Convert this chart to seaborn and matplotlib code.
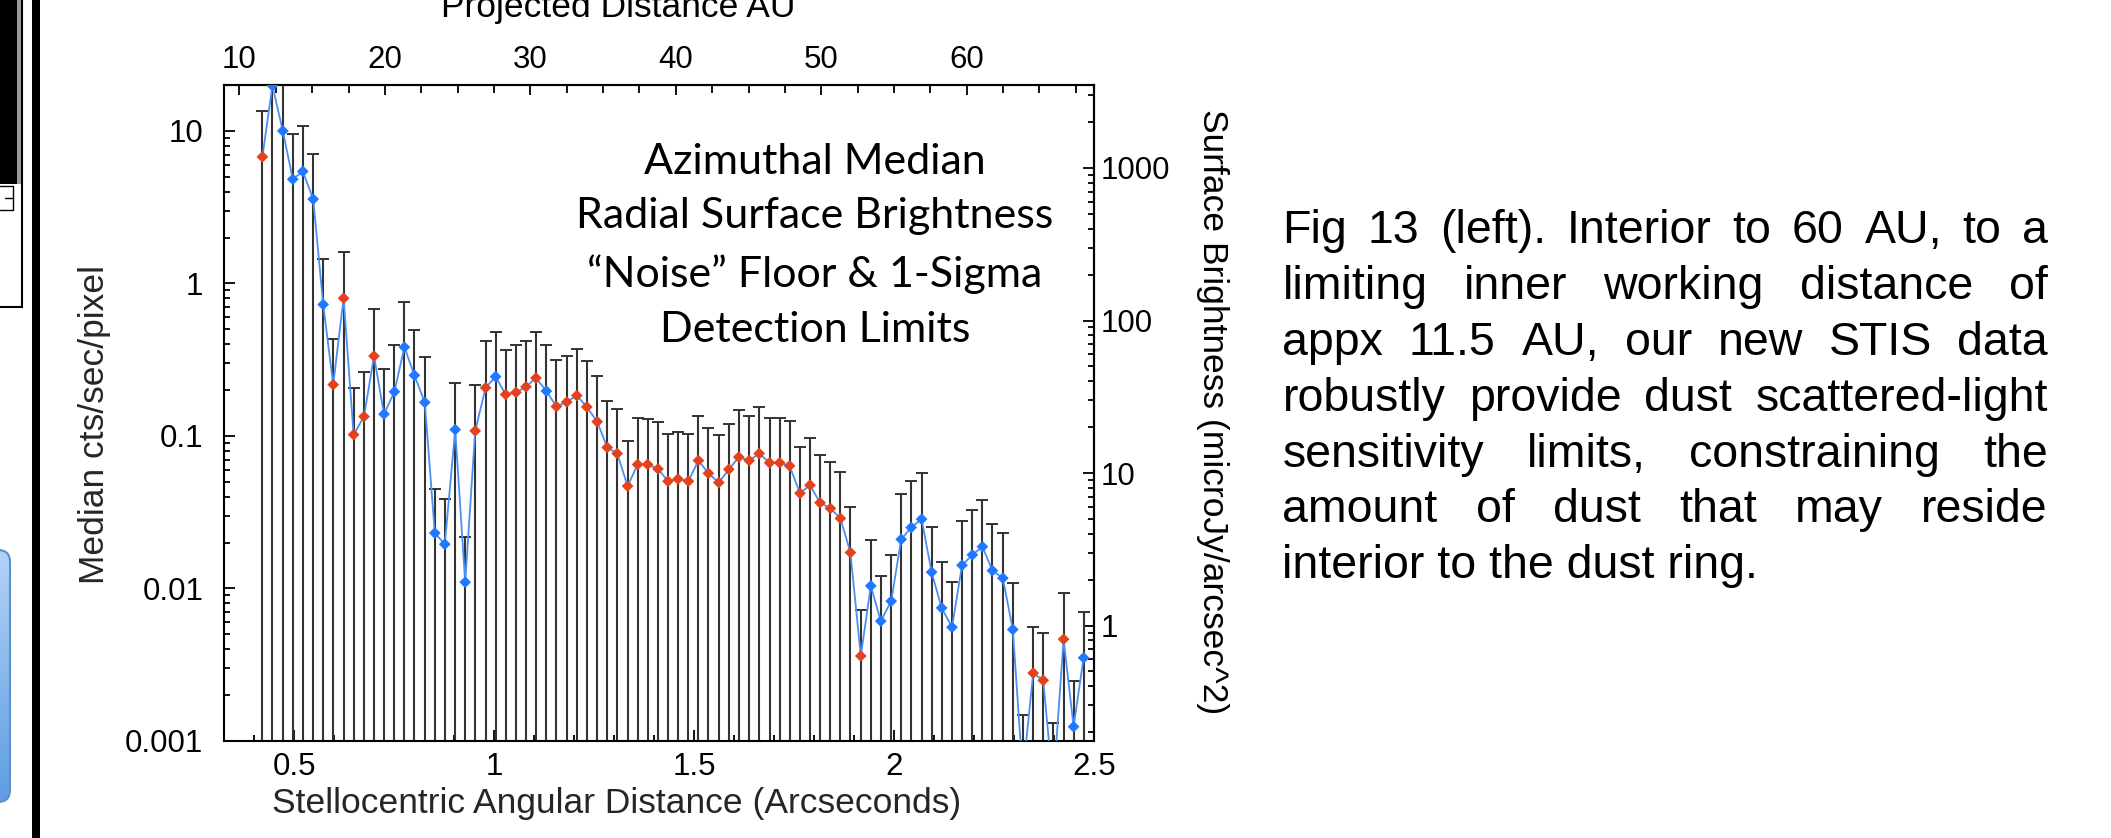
import numpy as np
import matplotlib
matplotlib.use("Agg")
import matplotlib.pyplot as plt
import seaborn as sns
from matplotlib.ticker import MultipleLocator, LogLocator, FuncFormatter, NullFormatter
from matplotlib.patches import Rectangle, FancyBboxPatch
from matplotlib.colors import LinearSegmentedColormap

# ---------------- data ----------------
ARCSEC = [0.421, 0.446, 0.472, 0.497, 0.522, 0.548, 0.573, 0.598, 0.624, 0.649,
          0.675, 0.700, 0.725, 0.751, 0.776, 0.801, 0.827, 0.852, 0.877, 0.903,
          0.928, 0.953, 0.979, 1.004, 1.029, 1.055, 1.080, 1.105, 1.131, 1.156,
          1.182, 1.207, 1.232, 1.258, 1.283, 1.308, 1.334, 1.359, 1.384, 1.410,
          1.435, 1.460, 1.486, 1.511, 1.536, 1.562, 1.587, 1.612, 1.638, 1.663,
          1.689, 1.714, 1.739, 1.765, 1.790, 1.815, 1.841, 1.866, 1.891, 1.917,
          1.942, 1.967, 1.993, 2.018, 2.043, 2.069, 2.094, 2.119, 2.145, 2.170,
          2.196, 2.221, 2.246, 2.272, 2.297, 2.322, 2.348, 2.373, 2.398, 2.424,
          2.449, 2.474]
MEDIAN = [6.76, 19.8, 10.0, 4.82, 5.43, 3.57, 0.728, 0.217, 0.80, 0.102,
          0.134, 0.334, 0.139, 0.195, 0.382, 0.250, 0.166, 0.0231, 0.0195, 0.110,
          0.0110, 0.108, 0.207, 0.245, 0.187, 0.193, 0.210, 0.240, 0.197, 0.156,
          0.167, 0.184, 0.155, 0.124, 0.0841, 0.0767, 0.0469, 0.0650, 0.0650, 0.0608,
          0.0505, 0.0522, 0.0505, 0.0690, 0.0569, 0.0495, 0.0604, 0.0727, 0.0690, 0.0767,
          0.0667, 0.0667, 0.0637, 0.0421, 0.0476, 0.0365, 0.0335, 0.0288, 0.0172, 0.00361,
          0.0104, 0.00611, 0.00826, 0.0210, 0.0251, 0.0285, 0.0128, 0.00746, 0.00557, 0.0142,
          0.0166, 0.0188, 0.0131, 0.0117, 0.00538, 0.0006, 0.00279, 0.00250, 0.0005, 0.00465,
          0.00124, 0.00351]
UPPER = [13.5, 40.0, 30.0, 9.55, 10.8, 7.08, 1.44, 0.43, 1.61, 0.207,
         0.264, 0.676, 0.274, 0.395, 0.757, 0.498, 0.330, 0.0451, 0.0387, 0.222,
         0.0217, 0.217, 0.417, 0.482, 0.367, 0.395, 0.421, 0.482, 0.395, 0.313,
         0.334, 0.370, 0.309, 0.248, 0.170, 0.151, 0.0929, 0.132, 0.129, 0.123,
         0.103, 0.106, 0.103, 0.136, 0.113, 0.101, 0.120, 0.148, 0.136, 0.155,
         0.132, 0.132, 0.125, 0.0851, 0.0966, 0.0750, 0.0671, 0.0583, 0.0344, 0.00728,
         0.0208, 0.0121, 0.0167, 0.0414, 0.0507, 0.0574, 0.0254, 0.0150, 0.0111, 0.0278,
         0.0327, 0.0380, 0.0263, 0.0232, 0.0109, 0.00149, 0.00557, 0.00507, 0.00131, 0.00927,
         0.00247, 0.00706]
FLAG = list("rbbbbbbrrrrrbbbbbbbbbrrbrrrrbrrrrrrrrrrrrrrrrrrrrrrrrrrrrrrrbbbbbbbbbbbbbbbbrrbrbb")

AU_PER_ARCSEC = 27.5      # top axis: projected distance
SB_PER_CTS = 175.0        # right axis: microJy/arcsec^2 per cts/sec/pixel

Y_TICKS = [0.001, 0.01, 0.1, 1, 10]
AU_TICKS = [10, 20, 30, 40, 50, 60]
SB_TICKS = [1, 10, 100, 1000]

NOTE_LINES = ["Azimuthal Median", "Radial Surface Brightness",
              "\u201cNoise\u201d Floor & 1-Sigma", "Detection Limits"]
PARA_LINES = ["Fig 13 (left). Interior to 60 AU, to a",
              "limiting inner working distance of",
              "appx 11.5 AU, our new STIS data",
              "robustly provide dust scattered-light",
              "sensitivity limits, constraining the",
              "amount of dust that may reside",
              "interior to the dust ring."]

# ---------------- styling ----------------
sns.set_theme(style="ticks")
plt.rcParams["font.family"] = ["Liberation Sans", "DejaVu Sans"]
plt.rcParams["axes.edgecolor"] = "black"
plt.rcParams["axes.linewidth"] = 1.5

W, H = 2111, 838
fig = plt.figure(figsize=(W / 100, H / 100), dpi=100)
fig.patch.set_facecolor("white")

# ---------------- slide decorations on the left edge ----------------
deco = fig.add_axes([0, 0, 1, 1], zorder=-5)
deco.set_xlim(0, W)
deco.set_ylim(H, 0)
deco.axis("off")
deco.add_patch(Rectangle((0, 0), 16.5, 184, color="black", lw=0))
deco.add_patch(Rectangle((16.5, 0), 4, 184, color="#9a9a9a", lw=0))
deco.add_patch(Rectangle((-5, -5), 26.5, 312, fill=False, ec="black", lw=1.5))
deco.plot([0, 12.5, 12.5, 0], [186, 186, 210, 210], color="black", lw=1.0)
deco.plot([5, 12.5], [198, 198], color="black", lw=1.0)
deco.add_patch(Rectangle((31.5, 0), 8, H, color="black", lw=0))
box = FancyBboxPatch((-30, 550), 40, 252, boxstyle="round,pad=0,rounding_size=12",
                     fc="none", ec="#5d8fcc", lw=1.5)
deco.add_patch(box)
grad_cmap = LinearSegmentedColormap.from_list("g", ["#b2d3f6", "#5f9de3"])
im = deco.imshow(np.linspace(0, 1, 64).reshape(-1, 1), cmap=grad_cmap, aspect="auto",
                 extent=(-30, 10, 802, 550), origin="upper", zorder=0)
im.set_clip_path(box)
deco.set_xlim(0, W)
deco.set_ylim(H, 0)

# ---------------- main axes ----------------
ax = fig.add_axes([224 / W, 1 - 741 / H, 870 / W, 656 / H])
ax.set_facecolor("white")
ax.set_yscale("log")

x = np.array(ARCSEC)
y = np.array(MEDIAN)
up = np.array(UPPER)
ax.errorbar(x, y, yerr=[y - 1e-7, up - y], fmt="none", ecolor="#333333",
            elinewidth=1.5, capsize=4.5, capthick=1.4, zorder=2)
sns.lineplot(x=x, y=y, ax=ax, color="#4b8ff2", lw=1.3, sort=False,
             estimator=None, zorder=3)
sns.scatterplot(x=x, y=y, hue=FLAG, palette={"b": "#1f78ff", "r": "#e2431c"},
                marker="D", s=36, linewidth=0, legend=False, ax=ax, zorder=4)

ax.set_xlim(0.325, 2.5)
ax.set_ylim(0.001, 20)
ax.xaxis.set_major_locator(MultipleLocator(0.5))
ax.xaxis.set_minor_locator(MultipleLocator(0.1))
ax.xaxis.set_major_formatter(FuncFormatter(lambda v, p: f"{v:g}"))
ax.set_yticks(Y_TICKS)
ax.yaxis.set_minor_locator(LogLocator(base=10, subs=np.arange(2, 10)))
ax.yaxis.set_major_formatter(FuncFormatter(lambda v, p: f"{v:g}"))
ax.yaxis.set_minor_formatter(NullFormatter())

ax.tick_params(which="both", direction="in", top=False, right=False,
               colors="black", labelcolor="black", width=1.3)
ax.tick_params(which="major", length=8, labelsize=22.5)
ax.tick_params(which="minor", length=4.5)
ax.tick_params(axis="y", which="major", pad=15)
ax.tick_params(axis="x", which="major", pad=8)
for s in ax.spines.values():
    s.set_color("black")
    s.set_linewidth(1.5)

ax.set_xlabel("Stellocentric Angular Distance (Arcseconds)", fontsize=25.5)
ax.xaxis.set_label_coords(0.4517, -0.096)
ax.xaxis.label.set_va("center")
ax.set_ylabel("Median cts/sec/pixel", fontsize=25.5)
ax.yaxis.set_label_coords(-0.1483, 0.482)
ax.yaxis.label.set_va("center")

# top axis (AU)
secx = ax.secondary_xaxis("top", functions=(lambda v: v * AU_PER_ARCSEC,
                                             lambda v: v / AU_PER_ARCSEC))
secx.set_xticks(AU_TICKS)
secx.xaxis.set_minor_locator(MultipleLocator(2.5))
secx.xaxis.set_major_formatter(FuncFormatter(lambda v, p: f"{v:g}"))
secx.tick_params(which="both", direction="in", colors="black", width=1.3)
secx.tick_params(which="major", length=7, labelsize=22.5, pad=7.5)
secx.tick_params(which="minor", length=5.5)

# right axis (surface brightness)
secy = ax.secondary_yaxis("right", functions=(lambda v: v * SB_PER_CTS,
                                               lambda v: v / SB_PER_CTS))
secy.set_yticks(SB_TICKS)
secy.yaxis.set_minor_locator(LogLocator(base=10, subs=np.arange(2, 10)))
secy.yaxis.set_major_formatter(FuncFormatter(lambda v, p: f"{v:g}"))
secy.yaxis.set_minor_formatter(NullFormatter())
secy.tick_params(which="both", direction="in", colors="black", width=1.3)
secy.tick_params(which="major", length=8, labelsize=22.5, pad=5)
secy.tick_params(which="minor", length=4.5)

# axis titles of the secondary axes, placed at their measured positions
fig.text(618 / W, 1 - 17 / H, "Projected Distance AU", ha="center", va="baseline",
         fontsize=25.5, color="black")
fig.text(1212 / W, 1 - 411.5 / H, "Surface Brightness (microJy/arcsec^2)",
         ha="center", va="center", rotation=270, fontsize=25.5, color="black")

# in-plot annotation (Calibri-like)
note_baselines = [173.5, 228.0, 286.5, 341.5]
for line, yb in zip(NOTE_LINES, note_baselines):
    fig.text(815 / W, 1 - yb / H, line, ha="center", va="baseline",
             fontsize=31, family=["Lato", "DejaVu Sans"], color="black")

# justified paragraph on the right
fig.canvas.draw()
renderer = fig.canvas.get_renderer()
x0, x1 = 1282.5, 2048.0
for k, line in enumerate(PARA_LINES):
    yb = 1 - (243.2 + k * 55.85) / H
    if k == len(PARA_LINES) - 1:
        fig.text(x0 / W, yb, line, ha="left", va="baseline", fontsize=33.5, color="black")
        continue
    words = line.split(" ")
    texts = [fig.text(0, yb, w_, ha="left", va="baseline", fontsize=33.5, color="black")
             for w_ in words]
    widths = [t.get_window_extent(renderer).width for t in texts]
    gap = (x1 - x0 - sum(widths)) / (len(words) - 1)
    cx = x0
    for t, wd in zip(texts, widths):
        t.set_x(cx / W)
        cx += wd + gap

fig.savefig("out.png", dpi=100, facecolor="white")
